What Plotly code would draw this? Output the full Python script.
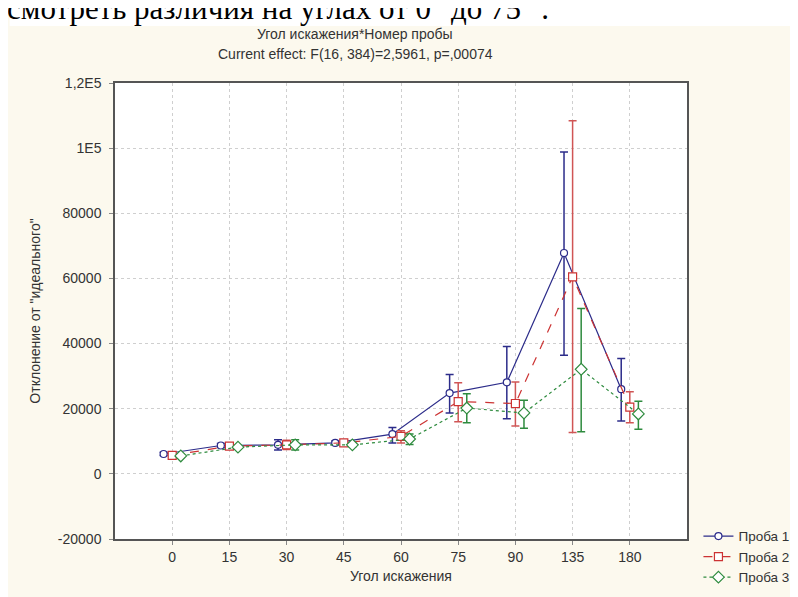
import plotly.graph_objects as go

angles = ["0", "15", "30", "45", "60", "75", "90", "135", "180"]

p1_mean = [6100, 8700, 8900, 9500, 12200, 24800, 28100, 67800, 26000]
p1_upper = [6600, 9300, 10500, 10100, 14200, 30500, 39100, 98800, 35400]
p1_lower = [5600, 8100, 7300, 8900, 9500, 18700, 16900, 36400, 16200]

p2_mean = [5700, 8500, 8900, 9500, 11500, 22200, 21600, 60500, 20500]
p2_upper = [6200, 9200, 10300, 10100, 13200, 28000, 28200, 108400, 25200]
p2_lower = [5200, 7800, 7500, 8900, 9500, 16000, 14700, 12700, 15700]

p3_mean = [5500, 8200, 8900, 8900, 10700, 20200, 18700, 32100, 18400]
p3_upper = [6000, 8700, 10500, 9500, 12200, 24600, 22600, 50800, 22300]
p3_lower = [5000, 7700, 7300, 8300, 9000, 15700, 14000, 12900, 13700]

y_ticks = [-20000, 0, 20000, 40000, 60000, 80000, 100000, 120000]
y_ticktext = ["-20000", "0", "20000", "40000", "60000", "80000", "1E5", "1,2E5"]

series = [
    ("Проба 1", p1_mean, p1_upper, p1_lower, "#2c2c8a", "#2c2c8a", "solid", "circle", -0.15, 7),
    ("Проба 2", p2_mean, p2_upper, p2_lower, "#cc3333", "#d05555", "dash", "square", 0.0, 8),
    ("Проба 3", p3_mean, p3_upper, p3_lower, "#2e8b3e", "#2e8b3e", "dot", "diamond", 0.15, 9),
]

FONT = "Liberation Sans, Arial, sans-serif"
TXT = "#333333"

fig = go.Figure()
for name, mean, up, lo, col, ecol, dash, sym, off, msize in series:
    xs = [i + off for i in range(len(angles))]
    fig.add_trace(go.Scatter(
        x=xs, y=mean, name=name, mode="lines+markers",
        line=dict(color=col, width=1.2, dash=dash),
        marker=dict(symbol=sym, size=msize, color="white",
                    line=dict(color=col, width=1.2)),
        error_y=dict(type="data", symmetric=False,
                     array=[u - m for u, m in zip(up, mean)],
                     arrayminus=[m - l for m, l in zip(mean, lo)],
                     color=ecol, thickness=1.5, width=4),
    ))

W, H = 798, 597
L, R, T, B = 107, 110, 75, 59
pw, ph = W - L - R, H - T - B

fig.update_layout(
    width=W, height=H,
    margin=dict(l=L, r=R, t=T, b=B),
    paper_bgcolor="#fcf9ee",
    plot_bgcolor="white",
    font=dict(family=FONT, size=13, color=TXT),
    showlegend=True,
    legend=dict(x=1.02, y=0.04, xanchor="left", yanchor="top",
                bgcolor="rgba(0,0,0,0)", font=dict(size=13.5, color=TXT),
                tracegroupgap=0, itemwidth=30),
    shapes=[dict(type="rect", xref="paper", yref="paper",
                 x0=-L / pw, x1=(W - L) / pw, y0=1 + (T - 17) / ph, y1=1 + T / ph + 0.01,
                 fillcolor="white", line=dict(width=0), layer="below")],
    annotations=[
        dict(text="смотреть различия на углах от 0° до 75° .", xref="paper", yref="paper",
             x=-(L + 5) / pw, y=1 + (T - 19) / ph, xanchor="left", yanchor="bottom",
             showarrow=False, font=dict(family="Liberation Serif, Times New Roman, serif",
                                        size=31, color="black")),
        dict(text="Угол искажения*Номер пробы", xref="paper", yref="paper",
             x=0.42, y=1 + (T - 25) / ph, xanchor="center", yanchor="middle",
             showarrow=False, font=dict(size=14, color=TXT)),
        dict(text="Current effect: F(16, 384)=2,5961, p=,00074", xref="paper", yref="paper",
             x=0.42, y=1 + (T - 46) / ph, xanchor="center", yanchor="middle",
             showarrow=False, font=dict(size=14, color=TXT)),
    ],
)

fig.update_xaxes(
    range=[-1, len(angles)], tickvals=list(range(len(angles))), ticktext=angles,
    showgrid=True, gridcolor="#cfcfcf", griddash="dot", gridwidth=1,
    zeroline=False, showline=True, linecolor="#555555", linewidth=1.5, mirror=True,
    ticks="outside", ticklen=4, tickcolor="#888888",
    tickfont=dict(size=14, color=TXT),
    title=dict(text="Угол искажения", font=dict(size=14, color=TXT), standoff=8),
)
fig.update_yaxes(
    range=[-20000, 120000], tickvals=y_ticks, ticktext=y_ticktext,
    showgrid=True, gridcolor="#cfcfcf", griddash="dot", gridwidth=1,
    zeroline=False, showline=True, linecolor="#555555", linewidth=1.5, mirror=True,
    ticks="outside", ticklen=4, tickcolor="#888888", ticklabelstandoff=5,
    tickfont=dict(size=14, color=TXT),
    title=dict(text="Отклонение от \"идеального\"", font=dict(size=14, color=TXT), standoff=14),
)

fig.write_html("out.html")
